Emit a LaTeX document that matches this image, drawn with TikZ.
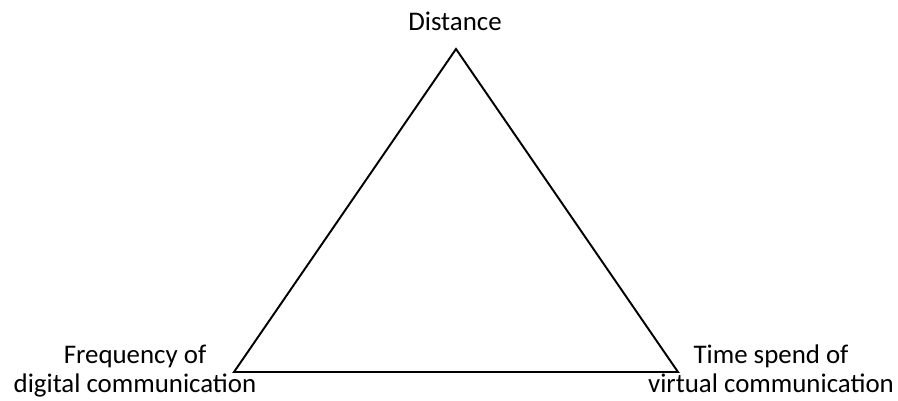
\documentclass[tikz,border=0pt]{standalone}
\usepackage{fontspec}
\setmainfont{Carlito}
\definecolor{trigray}{HTML}{000000}

\begin{document}
\begin{tikzpicture}[x=0.02cm,y=-0.02cm,line width=1.1pt,
  lbl/.style={align=center,anchor=base,inner sep=0pt,font=\fontsize{15.3}{16.4}\selectfont}]
  \useasboundingbox (0,0) rectangle (898,400);
  % corners of the triangle
  \coordinate (top) at (456,49);
  \coordinate (left) at (234,372);
  \coordinate (right) at (678,372);
  % edges
  \draw[trigray, line join=miter] (top) -- (right) -- (left) -- cycle;
  % labels at the corners
  \node[lbl] (dist) at (455,30) {Distance};
  \node[lbl] (freq) at (135,392) {Frequency of\\digital communication};
  \node[lbl] (time) at (771,392) {Time spend of\\virtual communication};
\end{tikzpicture}
\end{document}
